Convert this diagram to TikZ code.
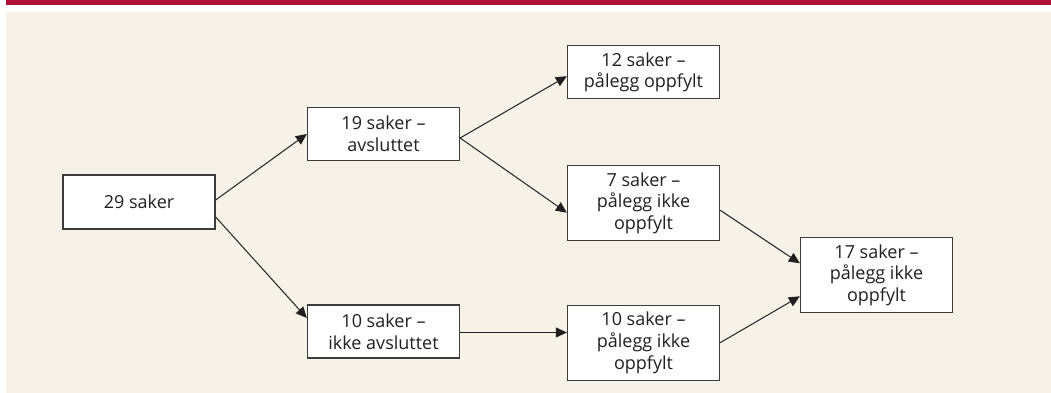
\documentclass[tikz,border=0pt]{standalone}
\usepackage{fontspec}
\setmainfont{Open Sans}
\usetikzlibrary{arrows.meta}
\definecolor{barred}{RGB}{172,16,54}
\definecolor{bgbeige}{RGB}{247,242,232}
\definecolor{ink}{RGB}{35,31,32}
\definecolor{boxline}{RGB}{60,60,60}
\tikzset{
  casebox/.style={draw=boxline, line width=1.3pt, fill=white, minimum width=152pt,
    inner sep=0pt, align=center, text=ink, font=\fontsize{18}{21.7}\selectfont},
  two/.style={minimum height=53pt},
  three/.style={minimum height=75pt},
  flow/.style={draw=ink, line width=1pt, -{Triangle[length=11pt,width=10pt]}}
}
\begin{document}
\begin{tikzpicture}[x=1pt,y=-1pt]
\useasboundingbox (0,0) rectangle (1051,393);
\fill[white] (0,0) rectangle (1051,393);
\fill[barred] (6,0) rectangle (1051,4.7);
\fill[bgbeige] (6,12) rectangle (1051,393);

\node[casebox, two, minimum height=54pt] (a29) at (139,202) {29 saker};
\node[casebox, two] (b19) at (383.5,134) {19 saker –\\avsluttet};
\node[casebox, two] (c12) at (643.5,72.2) {12 saker –\\pålegg oppfylt};
\node[casebox, three] (d7) at (643.5,203.2) {7 saker –\\pålegg ikke\\oppfylt};
\node[casebox, two] (e10) at (383.5,331.5) {10 saker –\\ikke avsluttet};
\node[casebox, three] (f10) at (643.5,342.7) {10 saker –\\pålegg ikke\\oppfylt};
\node[casebox, three] (g17) at (876.5,275.3) {17 saker –\\pålegg ikke\\oppfylt};

\draw[flow] ([yshift=2pt]a29.east) -- (b19.west);
\draw[flow] ([yshift=-15pt]a29.east) -- ([yshift=13.5pt]e10.west);
\draw[flow] ([yshift=-4pt]b19.east) -- ([yshift=-4pt]c12.west);
\draw[flow] ([yshift=-4pt]b19.east) -- ([yshift=-9.5pt]d7.west);
\draw[flow] ([yshift=-1pt]e10.east) -- ([yshift=10.2pt]f10.west);
\draw[flow] ([yshift=-7pt]d7.east) -- ([yshift=12pt]g17.west);
\draw[flow] (f10.east) -- ([yshift=-21pt]g17.west);
\end{tikzpicture}
\end{document}
